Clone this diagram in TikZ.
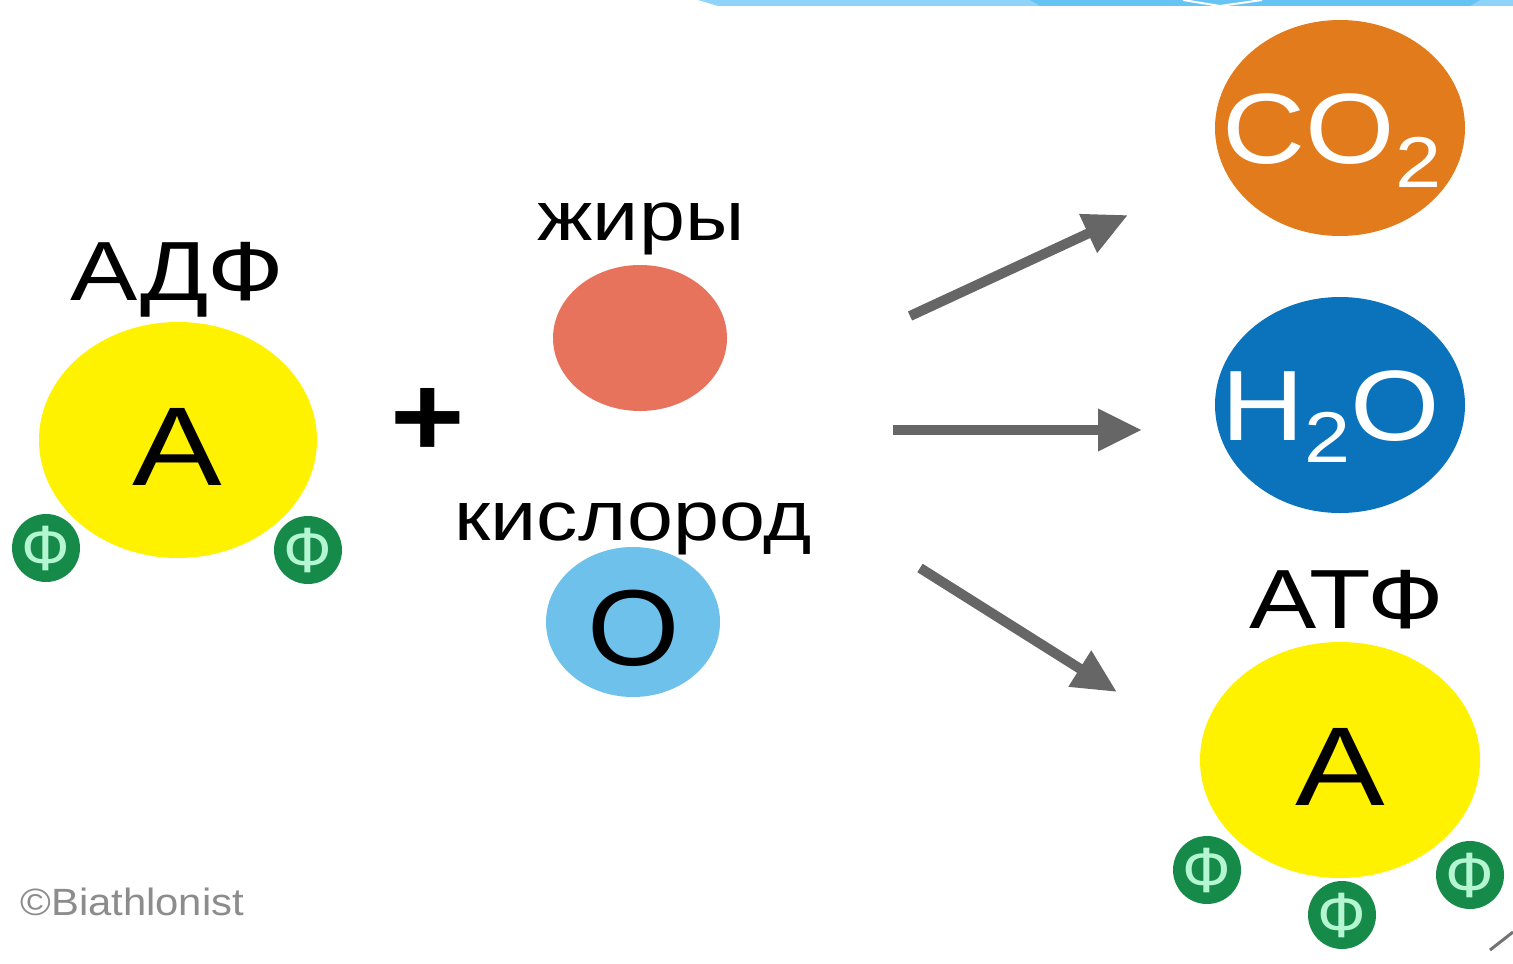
\documentclass[tikz,border=0pt]{standalone}
\usepackage{fontspec}
\usepackage{graphicx}
\setmainfont{Liberation Sans}
\usetikzlibrary{arrows.meta,shapes.geometric}
\definecolor{adpyellow}{HTML}{FFF200}
\definecolor{phgreen}{HTML}{168A48}
\definecolor{phmint}{HTML}{B4F5D2}
\definecolor{fatred}{HTML}{E8735C}
\definecolor{oxblue}{HTML}{6EC1EA}
\definecolor{coorange}{HTML}{E27B1C}
\definecolor{waterblue}{HTML}{0A73BB}
\definecolor{arrowgray}{HTML}{666666}
\definecolor{bannerA}{HTML}{8ED4FA}
\definecolor{bannerB}{HTML}{66C4F5}
\newcommand{\wideTxt}[2][1.2]{\scalebox{#1}[1]{#2}}
\tikzset{
  blob/.style={ellipse, inner sep=0pt, outer sep=0pt},
  phos/.style={circle, fill=phgreen, minimum size=34pt, inner sep=0pt},
  phosTxt/.style={text=phmint, font=\fontsize{32}{32}\selectfont, inner sep=0pt},
  lbl/.style={font=\fontsize{35}{35}\selectfont, inner sep=0pt, anchor=base},
  big/.style={font=\fontsize{56}{56}\selectfont, inner sep=0pt, anchor=base},
  react/.style={draw=arrowgray, line width=5pt, -{Triangle[length=22pt,width=20pt]}},
}
\begin{document}
\begin{tikzpicture}[x=0.5pt,y=-0.5pt]
\useasboundingbox (0,0) rectangle (1513,963);
\fill[white] (0,0) rectangle (1513,963);
% top banner
\fill[bannerA] (698,0) -- (1513,0) -- (1513,6) -- (718,6) -- cycle;
\fill[bannerB] (1030,0) -- (1480,0) -- (1470,6) -- (1040,6) -- cycle;
\draw[white, line width=1pt] (1183,0) -- (1220,6) -- (1262,0);

% ADP
\node[blob, fill=adpyellow, minimum width=139pt, minimum height=118pt] (adp) at (178,440) {};
\node[big] (adpA) at (177,485) {\wideTxt{А}};
\node[lbl, font=\fontsize{42}{42}\selectfont] (adplbl) at (177,300) {\wideTxt{АДФ}};
\node[phos] (adpp1) at (46,548) {};
\node[phosTxt] at (adpp1) {Ф};
\node[phos] (adpp2) at (308,550) {};
\node[phosTxt] at (adpp2) {Ф};

\node[font=\fontsize{58}{58}\selectfont\bfseries, inner sep=0pt] (plus) at (428,422) {\wideTxt[1.1]{+}};

% fats
\node[lbl] (fatlbl) at (641,240) {\wideTxt[1.18]{жиры}};
\node[blob, fill=fatred, minimum width=87pt, minimum height=73pt] (fat) at (640,338) {};
% oxygen
\node[lbl] (oxlbl) at (633,540) {\wideTxt[1.18]{кислород}};
\node[blob, fill=oxblue, minimum width=87pt, minimum height=75pt] (ox) at (633,622) {};
\node[big, font=\fontsize{54}{54}\selectfont] (oxO) at (634,665) {\wideTxt[1.1]{O}};

% products
\node[blob, fill=coorange, minimum width=125pt, minimum height=108pt] (co2) at (1340,128) {};
\node[text=white, font=\fontsize{50}{50}\selectfont, inner sep=0pt, anchor=base] (co2t) at (1332,163) {\wideTxt[1.15]{CO\raisebox{-12pt}{\fontsize{36}{36}\selectfont 2}}};
\node[blob, fill=waterblue, minimum width=125pt, minimum height=108pt] (h2o) at (1340,405) {};
\node[text=white, font=\fontsize{50}{50}\selectfont, inner sep=0pt, anchor=base] (h2ot) at (1331,440) {\wideTxt[1.15]{H\raisebox{-11pt}{\fontsize{36}{36}\selectfont 2}O}};

\node[lbl, font=\fontsize{42}{42}\selectfont] (atplbl) at (1347,628) {\wideTxt{АТФ}};
\node[blob, fill=adpyellow, minimum width=140pt, minimum height=118pt] (atp) at (1340,760) {};
\node[big] (atpA) at (1340,805) {\wideTxt{А}};
\node[phos] (atpp1) at (1207,870) {};
\node[phosTxt] at (atpp1) {Ф};
\node[phos] (atpp2) at (1342,915) {};
\node[phosTxt] at (atpp2) {Ф};
\node[phos] (atpp3) at (1470,875) {};
\node[phosTxt] at (atpp3) {Ф};

% arrows
\coordinate (a1s) at (910,316);
\coordinate (a1e) at (1128,215);
\coordinate (a2s) at (893,430);
\coordinate (a2e) at (1142,430);
\coordinate (a3s) at (920,568);
\coordinate (a3e) at (1117,692);
\draw[react] (a1s) -- (a1e);
\draw[react] (a2s) -- (a2e);
\draw[react] (a3s) -- (a3e);

% watermark
\node[text=black!45, font=\fontsize{19}{19}\selectfont, anchor=base west, inner sep=0pt] (wm) at (20,915) {\wideTxt[1.1]{©Biathlonist}};

% corner line
\coordinate (c1) at (1490,950);
\coordinate (c2) at (1513,932);
\draw[black!55, line width=1.5pt] (c1) -- (c2);
\end{tikzpicture}
\end{document}
